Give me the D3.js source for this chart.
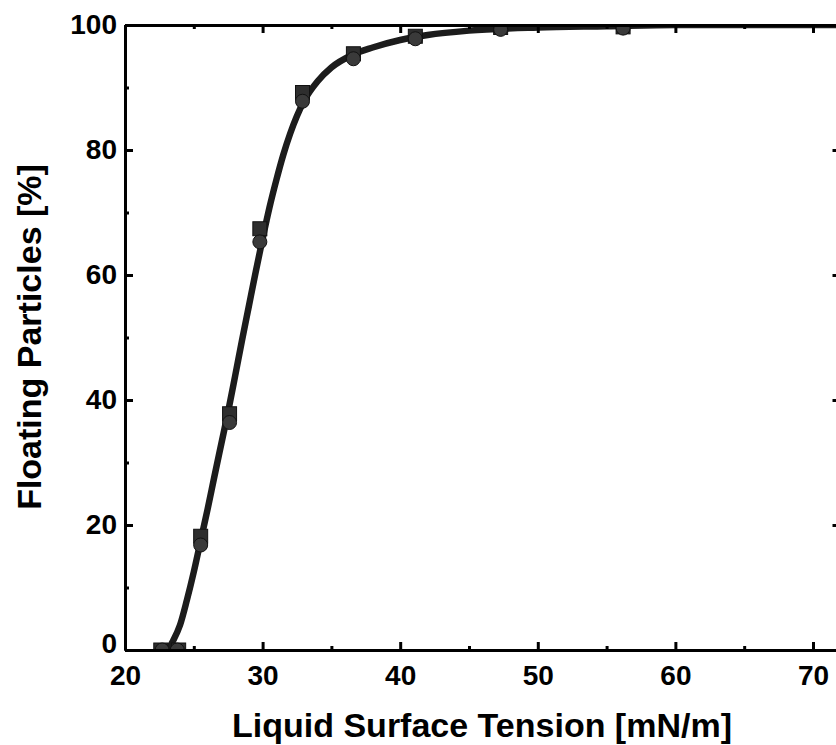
<!DOCTYPE html>
<html>
<head>
<meta charset="utf-8">
<script src="https://cdn.jsdelivr.net/npm/d3@7"></script>
<style>
  body { margin: 0; background: #fff; }
  svg text { font-family: "Liberation Sans", Arial, Helvetica, sans-serif; font-weight: bold; fill: #000; }
</style>
</head>
<body>
<div id="chart"></div>
<script>
// squares (series 1)
const squareX = [22.6, 23.9, 25.5, 27.6, 29.8, 32.9, 36.6, 41.1, 47.3, 56.2];
const squareY = [0, 0, 18.2, 37.8, 67.4, 89.2, 95.4, 98.2, 99.6, 99.7];
// circles (series 2)
const circleX = [22.7, 23.8, 25.5, 27.6, 29.8, 32.9, 36.6, 41.1, 47.3, 56.2];
const circleY = [0, 0, 16.8, 36.4, 65.3, 87.8, 94.6, 97.8, 99.3, 99.5];
// fitted curve
const fitX = [23.1, 23.5, 24, 24.5, 25, 25.5, 26, 26.5, 27, 27.5, 28, 28.5, 29, 29.5, 30, 30.5, 31, 31.5, 32, 33, 34, 35, 36.5, 38, 40, 42, 45, 50, 55, 60, 72];
const fitY = [0, 1.5, 4, 8, 12.5, 17.5, 22.5, 27.8, 33, 38.2, 43.8, 49.5, 55, 60.5, 65.8, 70.8, 75.2, 79.2, 82.6, 87.8, 91, 93.2, 95.2, 96.4, 97.6, 98.4, 99.1, 99.6, 99.8, 100, 100];

const xMajor = [20, 30, 40, 50, 60, 70];
const xMinor = [25, 35, 45, 55, 65];
const yMajor = [0, 20, 40, 60, 80, 100];
const yMinor = [10, 30, 50, 70, 90];

const W = 836, H = 745;
const margin = { left: 125, top: 25 };
const plotW = 715.5, plotH = 625;

const svg = d3.select("#chart").append("svg")
    .attr("width", W)
    .attr("height", H);

const g = svg.append("g")
    .attr("transform", `translate(${margin.left},${margin.top})`);

const x = d3.scaleLinear().domain([20, 72]).range([0, plotW]);
const y = d3.scaleLinear().domain([0, 100]).range([plotH, 0]);

// clip for marks
g.append("clipPath").attr("id", "plot-clip")
    .append("rect").attr("width", plotW).attr("height", plotH);

const marks = g.append("g").attr("clip-path", "url(#plot-clip)");

// fit curve
const line = d3.line()
    .x((d, i) => x(fitX[i]))
    .y(d => y(d))
    .curve(d3.curveMonotoneX);

marks.append("path")
    .datum(fitY)
    .attr("d", line)
    .attr("fill", "none")
    .attr("stroke", "#1c1c1c")
    .attr("stroke-width", 6.5)
    .attr("stroke-linecap", "round");

// squares
marks.selectAll(".sq")
    .data(squareY)
    .enter()
    .append("rect")
    .attr("class", "sq")
    .attr("x", (d, i) => x(squareX[i]) - 7)
    .attr("y", d => y(d) - 7)
    .attr("width", 14)
    .attr("height", 14)
    .attr("fill", "#2e2e2e")
    .attr("stroke", "#111")
    .attr("stroke-width", 1);

// circles
marks.selectAll(".ci")
    .data(circleY)
    .enter()
    .append("circle")
    .attr("class", "ci")
    .attr("cx", (d, i) => x(circleX[i]))
    .attr("cy", d => y(d))
    .attr("r", 7)
    .attr("fill", "#3a3a3a")
    .attr("stroke", "#111")
    .attr("stroke-width", 1);

// axes
function styleAxis(sel) {
    sel.select(".domain").attr("stroke", "#000").attr("stroke-width", 3);
    sel.selectAll(".tick line").attr("stroke", "#000").attr("stroke-width", 3);
    sel.selectAll("text").style("font-size", "28px");
}

// bottom
g.append("g").attr("transform", `translate(0,${plotH})`)
    .call(d3.axisBottom(x).tickValues(xMajor).tickSize(-8).tickSizeOuter(0).tickPadding(15))
    .call(styleAxis);
g.append("g").attr("transform", `translate(0,${plotH})`)
    .call(d3.axisBottom(x).tickValues(xMinor).tickSize(-4).tickSizeOuter(0).tickFormat(""))
    .call(styleAxis);
// top
g.append("g")
    .call(d3.axisTop(x).tickValues(xMajor).tickSize(-8).tickSizeOuter(0).tickFormat(""))
    .call(styleAxis);
g.append("g")
    .call(d3.axisTop(x).tickValues(xMinor).tickSize(-4).tickSizeOuter(0).tickFormat(""))
    .call(styleAxis);
// left
g.append("g")
    .call(d3.axisLeft(y).tickValues(yMajor).tickSize(-8).tickSizeOuter(0).tickPadding(8))
    .call(styleAxis)
    .selectAll(".tick text")
    .attr("dy", d => d === 0 ? "0.1em" : "0.32em");
g.append("g")
    .call(d3.axisLeft(y).tickValues(yMinor).tickSize(-4).tickSizeOuter(0).tickFormat(""))
    .call(styleAxis);
// right
g.append("g").attr("transform", `translate(${plotW},0)`)
    .call(d3.axisRight(y).tickValues(yMajor).tickSize(-8).tickSizeOuter(0).tickFormat(""))
    .call(styleAxis);
g.append("g").attr("transform", `translate(${plotW},0)`)
    .call(d3.axisRight(y).tickValues(yMinor).tickSize(-4).tickSizeOuter(0).tickFormat(""))
    .call(styleAxis);

// axis titles
svg.append("text")
    .attr("x", 482)
    .attr("y", 737)
    .attr("text-anchor", "middle")
    .style("font-size", "34px")
    .text("Liquid Surface Tension [mN/m]");

svg.append("text")
    .attr("transform", "translate(41,337) rotate(-90)")
    .attr("text-anchor", "middle")
    .style("font-size", "34px")
    .text("Floating Particles [%]");
</script>
</body>
</html>
